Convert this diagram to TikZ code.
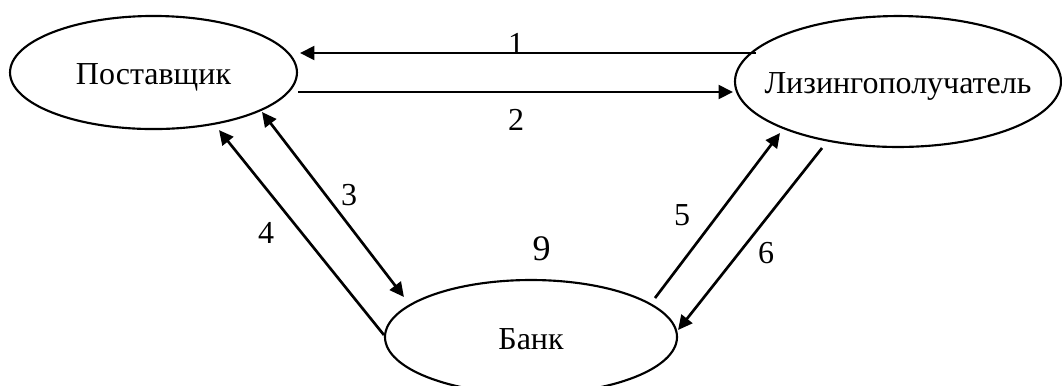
\documentclass[tikz,border=0pt]{standalone}
\usepackage{fontspec}
\setmainfont{Liberation Serif}
\usetikzlibrary{shapes.geometric,arrows.meta}
\newcommand{\elltext}[1]{\makebox[0pt]{\smash{\raisebox{-4.6pt}{#1}}}}
\begin{document}
\begin{tikzpicture}[x=0.375pt,y=-0.375pt,
  ent/.style={ellipse,draw,line width=0.8pt,inner sep=0pt,font=\fontsize{12}{14}\selectfont},
  arr/.style={line width=1pt,-{Triangle[length=5.4pt,width=5.2pt]}},
  darr/.style={line width=1pt,{Triangle[length=5.4pt,width=5.2pt]}-{Triangle[length=5.4pt,width=5.2pt]}},
  num/.style={anchor=base,inner sep=0pt,font=\fontsize{12}{14}\selectfont},
  bignum/.style={anchor=base,inner sep=0pt,font=\fontsize{13.5}{16}\selectfont}]
\useasboundingbox (0,0) rectangle (1062,385);
\node[ent,minimum width=107.6pt,minimum height=42.4pt] (P) at (153.5,72.5) {\elltext{Поставщик}};
\node[ent,minimum width=122.25pt,minimum height=49.1pt] (L) at (898,81.5) {\elltext{Лизингополучатель}};
\node[ent,minimum width=109.5pt,minimum height=42.75pt] (B) at (531,337) {\elltext{Банк}};
% connectors
\draw[arr] ([shift={(22,-28.5)}]L.west) -- ([shift={(2,-19.5)}]P.east);
\draw[arr] ([shift={(0,19.5)}]P.east) -- ([shift={(-1,10.5)}]L.west);
\draw[darr] ([shift={(108.5,39.5)}]P.center) -- ([shift={(20,-40)}]B.west);
\draw[arr] ([shift={(0,-2)}]B.west) -- ([shift={(65.5,0)}]P.south);
\draw[arr] ([shift={(124,-39)}]B.center) -- ([shift={(-118,-15)}]L.south);
\draw[arr] ([shift={(-76,0)}]L.south) -- ([shift={(0,-7)}]B.east);
% labels
\node[num] (n1) at (516,54) {1};
\node[num] (n2) at (516,130.7) {2};
\node[num] (n3) at (349,205) {3};
\node[num] (n4) at (266,243) {4};
\node[num] (n5) at (682,225) {5};
\node[num] (n6) at (766,263) {6};
\node[bignum] (n9) at (541.7,260.7) {9};
\end{tikzpicture}
\end{document}
